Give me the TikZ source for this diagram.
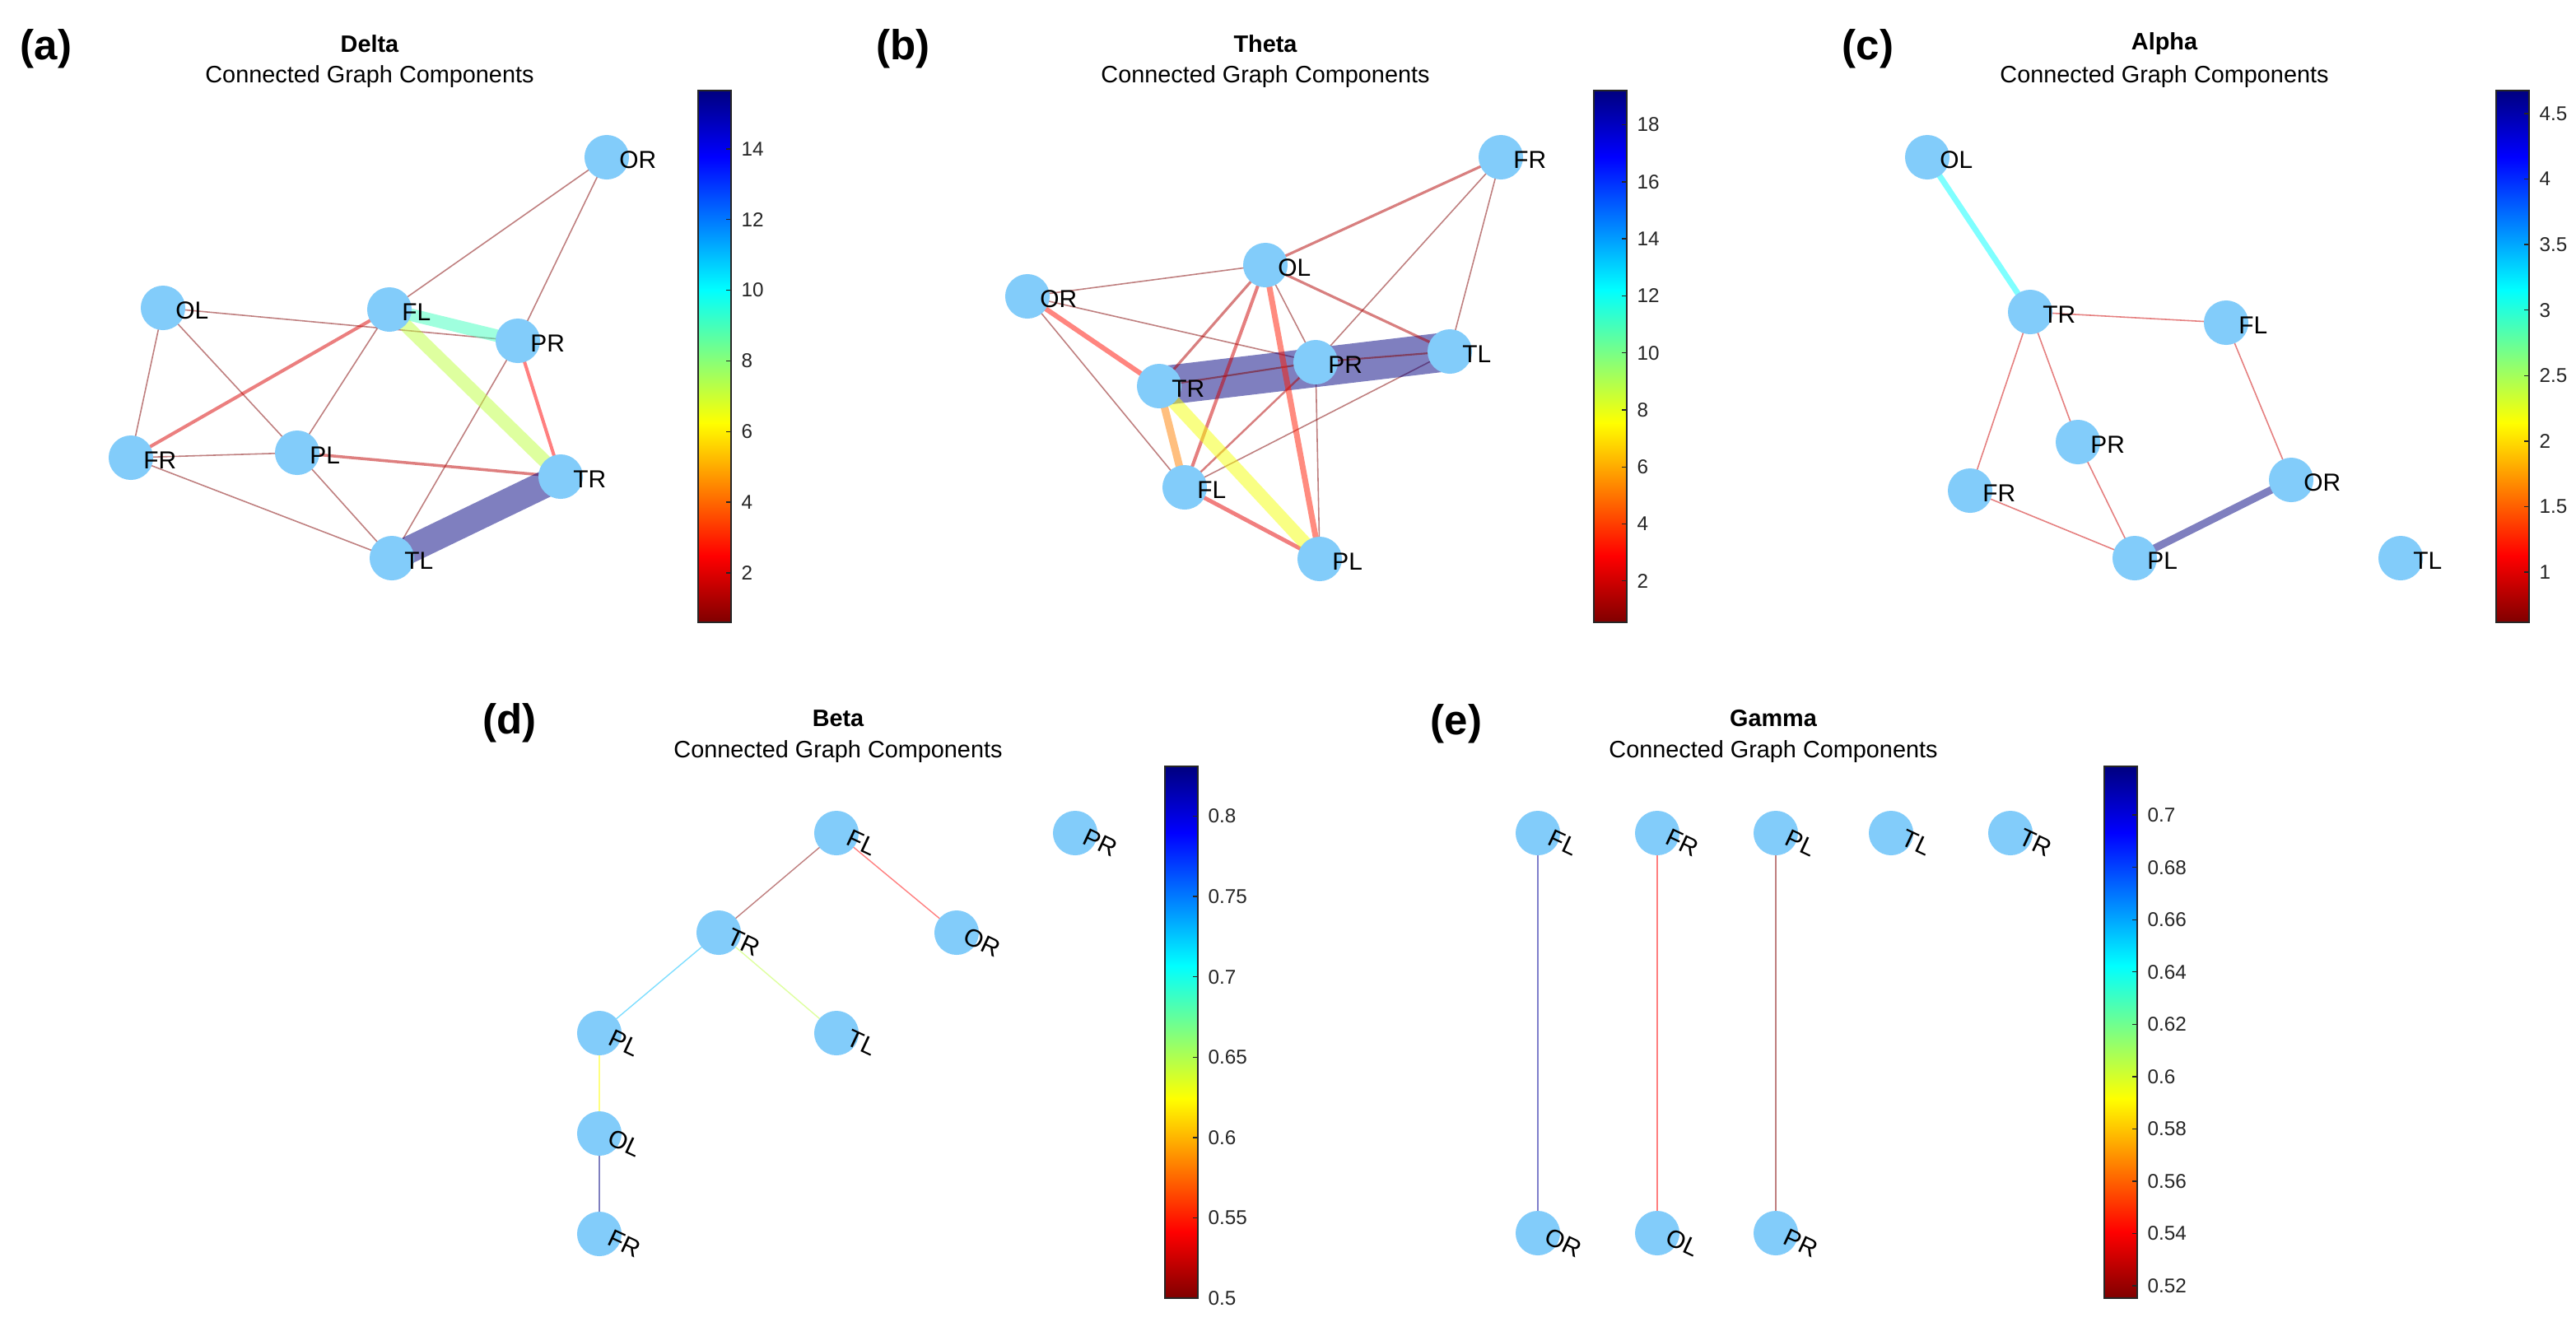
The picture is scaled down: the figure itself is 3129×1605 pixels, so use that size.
\documentclass[tikz,border=0pt]{standalone}
\usepackage{fontspec}
\setmainfont{Liberation Sans}
\usetikzlibrary{backgrounds}
\definecolor{node@blue}{RGB}{130,204,250}
\definecolor{jet@dred}{rgb}{0.5,0,0}
\definecolor{jet@red}{rgb}{1,0,0}
\definecolor{jet@orange}{rgb}{1,0.5,0}
\definecolor{jet@yellow}{rgb}{1,1,0}
\definecolor{jet@lime}{rgb}{0.75,1,0.25}
\definecolor{jet@aqua}{rgb}{0.25,1,0.75}
\definecolor{jet@cyan}{rgb}{0,1,1}
\definecolor{jet@sky}{rgb}{0,0.75,1}
\definecolor{jet@blue}{rgb}{0,0,1}
\definecolor{jet@dblue}{rgb}{0,0,0.5}
\definecolor{tick@grey}{gray}{0.15}

% the path is fitted to the middle 50bp of the shading
\pgfdeclareverticalshading{jetmap}{100bp}{color(0bp)=(jet@dred); color(25bp)=(jet@dred);
  color(31.25bp)=(jet@red); color(43.75bp)=(jet@yellow); color(56.25bp)=(jet@cyan);
  color(68.75bp)=(jet@blue); color(75bp)=(jet@dblue); color(100bp)=(jet@dblue)}

\tikzset{
  vert/.style={circle, fill=node@blue, minimum size=0.54cm, inner sep=0pt},
  lab/.style={anchor=west, inner sep=0pt, xshift=-0.13cm, yshift=-0.03cm,
    font=\fontsize{8.5}{10}\selectfont},
  rlab/.style={anchor=center, inner sep=0pt, xshift=0.03cm, yshift=-0.12cm, rotate=-25,
    font=\fontsize{8.5}{10}\selectfont},
  ttl/.style={inner sep=0pt, font=\fontsize{8.2}{10}\selectfont\bfseries},
  sub/.style={inner sep=0pt, font=\fontsize{8.2}{10}\selectfont},
  tag/.style={inner sep=0pt, font=\fontsize{14.5}{16}\selectfont\bfseries},
  cbframe/.style={draw=tick@grey, line width=0.4pt},
  ticklab/.style={anchor=west, inner sep=0pt, text=tick@grey, font=\fontsize{6.9}{8}\selectfont},
  wedge/.style={draw opacity=0.5},
  wthin/.style={wedge, draw=jet@dred, line width=0.45pt},
}

% colorbar: left x, top y, bottom y, min, max, ticks, prefix
\newcommand{\colbar}[7]{%
  \shade[shading=jetmap] (#1,#2) rectangle (#1+40,#3);
  \draw[cbframe] (#1,#2) rectangle (#1+40,#3);
  \foreach \v [count=\i] in {#6} {
    \pgfmathsetmacro{\ty}{#3-(\v-#4)/(#5-#4)*(#3-#2)}
    \draw[cbframe] (#1+40,\ty) -- ++(-6,0);
    \node[ticklab] (#7tick\i) at (#1+52,\ty) {\v};
  }%
}

\begin{document}
\begin{tikzpicture}[x=0.01cm, y=-0.01cm]

\begin{pgfonlayer}{background}
  \fill[white] (0,0) rectangle (3129,1605);
\end{pgfonlayer}

% (a) Delta
\begin{scope}
  \node[tag] (aTag) at (56,59) {(a)};
  \node[ttl] (aTitle) at (449,53) {Delta};
  \node[sub] (aSub) at (449,93) {Connected Graph Components};

  \node[vert, label={[lab]0:OR}] (aOR) at (737,191) {};
  \node[vert, label={[lab]0:OL}] (aOL) at (198,374) {};
  \node[vert, label={[lab]0:FL}] (aFL) at (473,376) {};
  \node[vert, label={[lab]0:PR}] (aPR) at (629,414) {};
  \node[vert, label={[lab]0:FR}] (aFR) at (159,556) {};
  \node[vert, label={[lab]0:PL}] (aPL) at (361,550) {};
  \node[vert, label={[lab]0:TR}] (aTR) at (681,579) {};
  \node[vert, label={[lab]0:TL}] (aTL) at (476,678) {};

  \begin{pgfonlayer}{background}
    \draw[wthin] (aOR.center) -- (aFL.center);
    \draw[wthin] (aOR.center) -- (aPR.center);
    \draw[wthin] (aOL.center) -- (aPR.center);
    \draw[wthin] (aOL.center) -- (aFR.center);
    \draw[wthin] (aOL.center) -- (aPL.center);
    \draw[wthin] (aFL.center) -- (aPL.center);
    \draw[wthin] (aPR.center) -- (aTL.center);
    \draw[wthin] (aFR.center) -- (aPL.center);
    \draw[wthin] (aFR.center) -- (aTL.center);
    \draw[wthin] (aPL.center) -- (aTL.center);
    \draw[wedge, draw=jet@red!85!black, line width=1.15pt] (aFL.center) -- (aFR.center);
    \draw[wedge, draw=jet@red, line width=1.15pt] (aPR.center) -- (aTR.center);
    \draw[wedge, draw=jet@red!75!black, line width=1pt] (aPL.center) -- (aTR.center);
    \draw[wedge, draw=jet@aqua, line width=4.3pt] (aFL.center) -- (aPR.center);
    \draw[wedge, draw=jet@lime, line width=4.6pt] (aFL.center) -- (aTR.center);
    \draw[wedge, draw=jet@dblue, line width=9.4pt] (aTR.center) -- (aTL.center);
  \end{pgfonlayer}

  \colbar{848}{110}{756}{0.6}{15.65}{2,4,6,8,10,12,14}{a}
\end{scope}

% (b) Theta
\begin{scope}
  \node[tag] (bTag) at (1097,59) {(b)};
  \node[ttl] (bTitle) at (1537,53) {Theta};
  \node[sub] (bSub) at (1537,93) {Connected Graph Components};

  \node[vert, label={[lab]0:FR}] (bFR) at (1823,191) {};
  \node[vert, label={[lab]0:OL}] (bOL) at (1537,322) {};
  \node[vert, label={[lab]0:OR}] (bOR) at (1248,360) {};
  \node[vert, label={[lab]0:TL}] (bTL) at (1761,427) {};
  \node[vert, label={[lab]0:PR}] (bPR) at (1598,440) {};
  \node[vert, label={[lab]0:TR}] (bTR) at (1408,469) {};
  \node[vert, label={[lab]0:FL}] (bFL) at (1439,592) {};
  \node[vert, label={[lab]0:PL}] (bPL) at (1603,679) {};

  \begin{pgfonlayer}{background}
    \draw[wthin] (bFR.center) -- (bPR.center);
    \draw[wthin] (bFR.center) -- (bTL.center);
    \draw[wthin] (bOL.center) -- (bOR.center);
    \draw[wthin] (bOL.center) -- (bPR.center);
    \draw[wthin] (bOR.center) -- (bPR.center);
    \draw[wthin] (bOR.center) -- (bFL.center);
    \draw[wthin] (bFL.center) -- (bTL.center);
    \draw[wthin] (bPR.center) -- (bPL.center);
    \draw[wedge, draw=jet@dblue, line width=13.5pt] (bTR.center) -- (bTL.center);
    \draw[wedge, draw=jet@dred, line width=0.6pt] (bTR.center) -- (bPR.center);
    \draw[wedge, draw=jet@dred, line width=0.6pt] (bPR.center) -- (bTL.center);
    \draw[wedge, draw=jet@red!70!black, line width=0.9pt] (bFR.center) -- (bOL.center);
    \draw[wedge, draw=jet@red!70!black, line width=0.9pt] (bOL.center) -- (bTL.center);
    \draw[wedge, draw=jet@red!70!black, line width=0.9pt] (bOL.center) -- (bTR.center);
    \draw[wedge, draw=jet@red!80!black, line width=1.15pt] (bOL.center) -- (bFL.center);
    \draw[wedge, draw=jet@red!70!black, line width=0.7pt] (bFL.center) -- (bPR.center);
    \draw[wedge, draw=jet@red!90!jet@yellow, line width=2pt] (bOL.center) -- (bPL.center);
    \draw[wedge, draw=jet@red!95!jet@yellow, line width=1.7pt] (bOR.center) -- (bTR.center);
    \draw[wedge, draw=jet@red!90!black, line width=1.4pt] (bFL.center) -- (bPL.center);
    \draw[wedge, draw=jet@orange, line width=2.6pt] (bTR.center) -- (bFL.center);
    \draw[wedge, draw=jet@yellow!85!jet@lime, line width=4.6pt] (bTR.center) -- (bPL.center);
  \end{pgfonlayer}

  \colbar{1936}{110}{756}{0.55}{19.2}{2,4,6,8,10,12,14,16,18}{b}
\end{scope}

% (c) Alpha
\begin{scope}
  \node[tag] (cTag) at (2269,59) {(c)};
  \node[ttl] (cTitle) at (2629,53) {Alpha};
  \node[sub] (cSub) at (2629,93) {Connected Graph Components};

  \node[vert, label={[lab]0:OL}] (cOL) at (2341,191) {};
  \node[vert, label={[lab]0:TR}] (cTR) at (2466,379) {};
  \node[vert, label={[lab]0:FL}] (cFL) at (2704,392) {};
  \node[vert, label={[lab]0:PR}] (cPR) at (2524,537) {};
  \node[vert, label={[lab]0:FR}] (cFR) at (2393,596) {};
  \node[vert, label={[lab]0:OR}] (cOR) at (2783,583) {};
  \node[vert, label={[lab]0:PL}] (cPL) at (2593,678) {};
  \node[vert, label={[lab]0:TL}] (cTL) at (2916,678) {};

  \begin{pgfonlayer}{background}
    \draw[wthin, draw=jet@red!80!black] (cTR.center) -- (cFL.center);
    \draw[wthin, draw=jet@red!80!black] (cTR.center) -- (cFR.center);
    \draw[wthin, draw=jet@red!80!black] (cTR.center) -- (cPR.center);
    \draw[wthin, draw=jet@red!80!black] (cFL.center) -- (cOR.center);
    \draw[wthin, draw=jet@red!80!black] (cPR.center) -- (cPL.center);
    \draw[wthin, draw=jet@red!80!black] (cFR.center) -- (cPL.center);
    \draw[wedge, draw=jet@cyan, line width=2pt] (cOL.center) -- (cTR.center);
    \draw[wedge, draw=jet@dblue, line width=2.6pt] (cPL.center) -- (cOR.center);
  \end{pgfonlayer}

  \colbar{3032}{110}{756}{0.617}{4.676}{1,1.5,2,2.5,3,3.5,4,4.5}{c}
\end{scope}

% (d) Beta
\begin{scope}
  \node[tag] (dTag) at (619,878) {(d)};
  \node[ttl] (dTitle) at (1018,873) {Beta};
  \node[sub] (dSub) at (1018,913) {Connected Graph Components};

  \node[vert, label={[rlab]0:FL}] (dFL) at (1016,1012) {};
  \node[vert, label={[rlab]0:PR}] (dPR) at (1306,1012) {};
  \node[vert, label={[rlab]0:TR}] (dTR) at (873,1133) {};
  \node[vert, label={[rlab]0:OR}] (dOR) at (1162,1133) {};
  \node[vert, label={[rlab]0:PL}] (dPL) at (728,1255) {};
  \node[vert, label={[rlab]0:TL}] (dTL) at (1016,1255) {};
  \node[vert, label={[rlab]0:OL}] (dOL) at (728,1377) {};
  \node[vert, label={[rlab]0:FR}] (dFR) at (728,1499) {};

  \begin{pgfonlayer}{background}
    \draw[wthin, line width=0.4pt] (dFL.center) -- (dTR.center);
    \draw[wthin, line width=0.4pt, draw=jet@red] (dFL.center) -- (dOR.center);
    \draw[wthin, line width=0.4pt, draw=jet@sky] (dTR.center) -- (dPL.center);
    \draw[wthin, line width=0.4pt, draw=jet@lime] (dTR.center) -- (dTL.center);
    \draw[wthin, line width=0.4pt, draw=jet@yellow] (dPL.center) -- (dOL.center);
    \draw[wthin, line width=0.4pt, draw=jet@dblue] (dOL.center) -- (dFR.center);
  \end{pgfonlayer}

  \colbar{1415}{931}{1577}{0.5}{0.831}{0.5,0.55,0.6,0.65,0.7,0.75,0.8}{d}
\end{scope}

% (e) Gamma
\begin{scope}
  \node[tag] (eTag) at (1769,879) {(e)};
  \node[ttl] (eTitle) at (2154,873) {Gamma};
  \node[sub] (eSub) at (2154,913) {Connected Graph Components};

  \node[vert, label={[rlab]0:FL}] (eFL) at (1868,1012) {};
  \node[vert, label={[rlab]0:FR}] (eFR) at (2013,1012) {};
  \node[vert, label={[rlab]0:PL}] (ePL) at (2157,1012) {};
  \node[vert, label={[rlab]0:TL}] (eTL) at (2297,1012) {};
  \node[vert, label={[rlab]0:TR}] (eTR) at (2442,1012) {};
  \node[vert, label={[rlab]0:OR}] (eOR) at (1868,1498) {};
  \node[vert, label={[rlab]0:OL}] (eOL) at (2013,1498) {};
  \node[vert, label={[rlab]0:PR}] (ePR) at (2157,1498) {};

  \begin{pgfonlayer}{background}
    \draw[wthin, line width=0.4pt, draw=jet@dblue!80!jet@blue] (eFL.center) -- (eOR.center);
    \draw[wthin, line width=0.4pt, draw=jet@red] (eFR.center) -- (eOL.center);
    \draw[wthin, line width=0.4pt] (ePL.center) -- (ePR.center);
  \end{pgfonlayer}

  \colbar{2556}{931}{1577}{0.5153}{0.7186}{0.52,0.54,0.56,0.58,0.6,0.62,0.64,0.66,0.68,0.7}{e}
\end{scope}

\end{tikzpicture}
\end{document}
